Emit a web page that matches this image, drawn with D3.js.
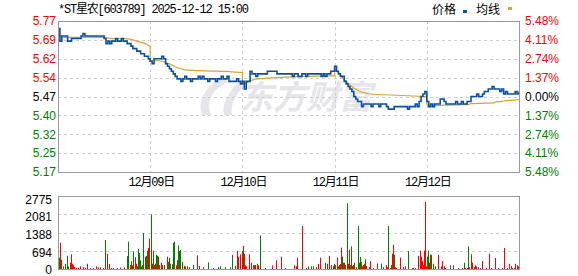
<!DOCTYPE html>
<html><head><meta charset="utf-8">
<script src="https://cdn.jsdelivr.net/npm/d3@7"></script>
<style>body{margin:0;background:#fff}svg{display:block}</style>
</head><body>
<svg id="c" width="578" height="276"></svg>
<script>
// ---------- data ----------
const title = "*ST星农[603789] 2025-12-12 15:00";
const legendLabels = ["价格", "均线"];
const dayLabels = ["12月08日", "12月09日", "12月10日", "12月11日", "12月12日"];
const minutesPerDay = 240;
const prevClose = 5.47;
const pctRange = 5.48;
const priceTickLabels = ["5.77","5.69","5.62","5.54","5.47","5.40","5.32","5.25","5.17"];
const pctTickLabels = ["5.48%","4.11%","2.74%","1.37%","0.00%","1.37%","2.74%","4.11%","5.48%"];
const volTickLabels = ["2775","2081","1388","694","0"];
const volMax = 2775;

// price samples every 5 minutes, per day (49 points each)
const day1Price = [5.74,5.69,5.71,5.71,5.71,5.69,5.69,5.70,5.70,5.70,5.70,5.70,5.71,5.72,5.71,5.71,5.71,5.71,5.71,5.71,5.71,5.71,5.71,5.71,5.70,5.68,5.69,5.68,5.69,5.69,5.70,5.69,5.69,5.70,5.69,5.69,5.68,5.68,5.67,5.66,5.66,5.65,5.65,5.64,5.64,5.63,5.63,5.62,5.61];
const day2Price = [5.61,5.60,5.62,5.62,5.62,5.62,5.63,5.62,5.60,5.59,5.58,5.57,5.56,5.55,5.54,5.54,5.53,5.54,5.55,5.54,5.54,5.53,5.54,5.54,5.54,5.55,5.54,5.55,5.54,5.54,5.53,5.54,5.54,5.54,5.53,5.54,5.54,5.55,5.54,5.54,5.55,5.53,5.53,5.53,5.53,5.54,5.53,5.52,5.52];
const day3Price = [5.53,5.50,5.53,5.53,5.57,5.56,5.56,5.55,5.56,5.56,5.56,5.56,5.56,5.57,5.57,5.57,5.57,5.57,5.56,5.56,5.56,5.56,5.56,5.56,5.56,5.56,5.55,5.56,5.56,5.55,5.55,5.56,5.56,5.55,5.56,5.56,5.56,5.56,5.56,5.56,5.56,5.55,5.56,5.55,5.56,5.56,5.57,5.57,5.58];
const day4Price = [5.59,5.57,5.56,5.55,5.55,5.53,5.52,5.51,5.50,5.49,5.47,5.46,5.45,5.45,5.43,5.44,5.44,5.44,5.44,5.43,5.44,5.44,5.44,5.43,5.44,5.44,5.44,5.43,5.42,5.42,5.42,5.43,5.43,5.43,5.43,5.43,5.43,5.43,5.42,5.43,5.43,5.43,5.44,5.43,5.45,5.47,5.48,5.49,5.46];
const day5Price = [5.45,5.43,5.44,5.43,5.44,5.44,5.44,5.46,5.46,5.45,5.44,5.44,5.44,5.44,5.44,5.45,5.44,5.44,5.45,5.44,5.44,5.45,5.45,5.47,5.47,5.47,5.48,5.47,5.47,5.48,5.49,5.49,5.50,5.50,5.51,5.50,5.50,5.50,5.49,5.50,5.48,5.49,5.48,5.48,5.48,5.48,5.49,5.48,5.49];

// average-price line samples every 5 minutes, per day
const day1Avg = [5.72,5.71,5.71,5.705,5.705,5.705,5.705,5.705,5.705,5.705,5.705,5.705,5.705,5.705,5.705,5.705,5.705,5.705,5.705,5.705,5.705,5.705,5.705,5.705,5.705,5.703,5.702,5.701,5.700,5.700,5.700,5.700,5.700,5.700,5.700,5.700,5.699,5.698,5.697,5.695,5.692,5.690,5.688,5.686,5.684,5.681,5.678,5.673,5.667];
const day2Avg = [5.61,5.612,5.612,5.612,5.612,5.612,5.61,5.608,5.606,5.603,5.600,5.596,5.592,5.588,5.585,5.582,5.580,5.578,5.576,5.575,5.575,5.574,5.574,5.574,5.573,5.573,5.573,5.572,5.572,5.572,5.572,5.571,5.571,5.571,5.571,5.571,5.570,5.570,5.570,5.570,5.570,5.569,5.568,5.568,5.567,5.567,5.566,5.566,5.565];
const day3Avg = [5.53,5.52,5.525,5.528,5.532,5.535,5.537,5.539,5.540,5.541,5.541,5.542,5.542,5.543,5.543,5.544,5.544,5.545,5.545,5.546,5.546,5.546,5.547,5.547,5.547,5.548,5.548,5.548,5.549,5.549,5.549,5.549,5.550,5.550,5.550,5.550,5.550,5.550,5.551,5.551,5.551,5.551,5.551,5.551,5.552,5.552,5.552,5.552,5.552];
const day4Avg = [5.58,5.57,5.565,5.555,5.545,5.537,5.530,5.523,5.516,5.510,5.504,5.499,5.495,5.491,5.488,5.486,5.484,5.482,5.481,5.480,5.479,5.478,5.478,5.478,5.477,5.477,5.477,5.477,5.476,5.476,5.476,5.475,5.475,5.475,5.474,5.474,5.474,5.473,5.473,5.473,5.472,5.472,5.472,5.471,5.471,5.471,5.470,5.470,5.470];
const day5Avg = [5.44,5.43,5.43,5.432,5.433,5.434,5.435,5.435,5.435,5.436,5.436,5.436,5.436,5.436,5.437,5.437,5.437,5.437,5.438,5.438,5.438,5.438,5.439,5.442,5.442,5.442,5.443,5.443,5.443,5.443,5.444,5.444,5.444,5.444,5.445,5.445,5.449,5.450,5.450,5.451,5.452,5.454,5.454,5.455,5.455,5.456,5.456,5.457,5.457];

// volume bars: minute index over the 5 days, amount, direction (r = up, g = down)
const volMinute = [3,5,9,12,19,24,27,31,34,36,39,42,47,52,57,64,69,75,83,92,98,105,109,116,123,128,132,138,144,153,161,172,180,183,187,190,193,196,200,203,206,207,210,213,217,219,222,226,228,232,234,237,242,244,247,251,253,256,258,261,264,269,272,277,283,286,290,292,296,299,302,306,311,313,316,318,322,324,327,331,335,342,352,363,367,378,391,404,417,422,435,448,452,454,461,465,468,475,480,482,484,487,489,498,502,507,510,513,517,521,526,539,556,567,580,591,
 614,619,623,634,636,645,652,659,665,672,678,683,695,701,706,710,715,718,722,725,729,732,735,737,740,743,745,748,751,753,756,758,761,763,766,769,771,776,782,784,787,789,791,794,796,800,802,810,813,821,831,841,847,853,857,860,864,868,870,873,875,878,881,891,897,904,912,921,923,929,938,943,946,948,951,953,956,958,961,964,966,969,972,977,982,990,996,1000,1005,1007,1021,1029,1042,1051,1057,1060,1064,1068,1070,1076,1078,1082,1086,1089,1094,1098,1104,1115,1122,1128,1138,1146,1156,1162,1168,1175,1178,1181,1187,1190,1195,1198];
const volAmount = [430,1000,350,100,190,500,100,240,560,200,140,80,50,50,100,70,50,200,40,40,100,60,60,40,1100,580,190,40,40,40,60,60,490,1040,150,300,140,670,450,200,100,770,610,330,100,150,1370,470,500,700,800,1160,2080,200,700,150,200,540,500,470,150,240,150,150,470,270,430,200,180,1000,1040,140,330,900,690,720,270,150,120,100,100,70,160,520,120,70,250,40,70,100,70,70,540,430,120,690,470,560,690,880,580,140,100,560,240,140,150,150,200,140,1270,40,140,330,470,40,
 140,100,430,100,1630,40,100,100,100,70,190,430,240,200,500,150,120,200,150,430,100,150,190,810,470,240,240,150,50,2500,200,730,150,860,120,150,240,70,1630,240,460,270,100,150,200,370,120,70,300,40,210,200,70,150,70,1630,40,150,580,920,540,70,40,430,70,100,680,40,50,40,500,700,470,300,150,700,2550,100,470,700,240,540,540,200,100,540,100,300,100,40,140,140,40,40,240,50,40,860,70,560,240,70,140,100,70,40,300,40,580,40,420,40,40,800,40,200,120,40,40,200,140,100];
const volDir = ("grrggggrrr"+"rrrrrrrrrr"+"rrgrgrrrrr"+"rrggrrrgrr"+"rggggrgrgg"+"rrgrgrrggr"+"rrrgrggrgg"+"grrgggrrgr"+"grgrrrgrgg"+"rgrgrrrrgr"+"rrrrrrrgrr"+"grrrrr"+
 "rrrgrrgrgr"+"rrgrrrggrr"+"rgrrggrrgg"+"rrggrrgrgg"+"grrrrgrrrr"+"rgrrrgrgrr"+"grrrrrgrgr"+"rrrrrrrrgg"+"rgrggrrrrr"+"grrrgrrgrr"+"rrrrgrrrrr"+"rrrrrrrgrr"+"rr").split("");

// ---------- drawing ----------
const RED = "#ff0000", GREEN = "#008000", BLUE = "#0c4f9e", GOLD = "#dba22a";
const GRID = "#cfcfcf", FRAME = "#9a9a9a";
const svg = d3.select("#c");
const P = {l: 58, r: 519, t: 21, b: 172};
const V = {t: 196, b: 269};
const nDays = dayLabels.length;

const x = d3.scaleLinear().domain([0, nDays * minutesPerDay]).range([P.l, P.r]);
const lo = prevClose * (1 - pctRange / 100), hi = prevClose * (1 + pctRange / 100);
const y = d3.scaleLinear().domain([lo, hi]).range([P.b, P.t]);
const yv = d3.scaleLinear().domain([0, volMax]).range([V.b, V.t]);

const nLev = priceTickLabels.length;
const levels = d3.range(nLev).map(k => hi - k * (hi - lo) / (nLev - 1));
const vLevels = d3.range(volTickLabels.length).map(k => volMax - k * volMax / (volTickLabels.length - 1));

const crisp = v => Math.round(v) + 0.5;

// watermark
const wm = svg.append("g").attr("fill", "#e5e5ea");
wm.append("path").attr("d", "M223,77 C206,85 197,100 202,115 L211,115 C206,101 212,89 228,82 Z");
wm.append("path").attr("d", "M241,80 C229,91 221,104 224,115 L232,115 C230,104 236,93 246,85 Z");
wm.append("text").attr("x", 240).attr("y", 109).attr("font-family", "Noto Sans CJK SC")
  .attr("font-weight", "bold").attr("font-style", "italic").attr("font-size", 33).text("东方财富");

// price grid
const g = svg.append("g");
g.selectAll("line.h").data(levels.slice(1, -1)).join("line")
  .attr("x1", P.l).attr("x2", P.r).attr("y1", d => crisp(y(d))).attr("y2", d => crisp(y(d)))
  .attr("stroke", GRID).attr("stroke-dasharray", "3,3");
g.selectAll("line.v").data(d3.range(1, nDays)).join("line")
  .attr("y1", P.t).attr("y2", P.b).attr("x1", d => crisp(x(d * minutesPerDay))).attr("x2", d => crisp(x(d * minutesPerDay)))
  .attr("stroke", GRID).attr("stroke-dasharray", "3,3");

// volume grid
g.selectAll("line.vh").data(vLevels.slice(1, -1)).join("line")
  .attr("x1", P.l).attr("x2", P.r).attr("y1", d => crisp(yv(d))).attr("y2", d => crisp(yv(d)))
  .attr("stroke", GRID).attr("stroke-dasharray", "3,3");

// series
function series(days) {
  const pts = [];
  days.forEach((arr, d) => {
    const step = minutesPerDay / (arr.length - 1);
    arr.forEach((p, i) => pts.push({t: d * minutesPerDay + i * step, p}));
  });
  return pts;
}
const pricePts = series([day1Price, day2Price, day3Price, day4Price, day5Price]);
const avgPts = series([day1Avg, day2Avg, day3Avg, day4Avg, day5Avg]);

svg.append("path").datum(avgPts)
  .attr("d", d3.line().x(d => x(d.t)).y(d => y(d.p)))
  .attr("fill", "none").attr("stroke", GOLD).attr("stroke-width", 1.2);
svg.append("path").datum(pricePts)
  .attr("d", d3.line().curve(d3.curveStepAfter).x(d => x(d.t)).y(d => y(d.p)))
  .attr("fill", "none").attr("stroke", BLUE).attr("stroke-width", 1.6);

// volume bars
const vols = volMinute.map((m, i) => ({m, v: volAmount[i], up: volDir[i] === "r"}));
svg.append("g").selectAll("rect").data(vols).join("rect")
  .attr("x", d => Math.round(x(d.m)))
  .attr("width", 1)
  .attr("y", d => yv(d.v))
  .attr("height", d => V.b - yv(d.v))
  .attr("fill", d => d.up ? RED : GREEN);

// frames
svg.append("rect").attr("x", P.l + 0.5).attr("y", P.t + 0.5).attr("width", P.r - P.l).attr("height", P.b - P.t)
  .attr("fill", "none").attr("stroke", FRAME);
svg.append("rect").attr("x", P.l + 0.5).attr("y", V.t + 0.5).attr("width", P.r - P.l).attr("height", V.b - V.t)
  .attr("fill", "none").attr("stroke", FRAME);

// label colours
const levColor = i => i < (nLev - 1) / 2 ? RED : (i === (nLev - 1) / 2 ? "#000" : GREEN);
const axisFont = "Liberation Sans, Arial, sans-serif";

svg.append("g").selectAll("text").data(levels).join("text")
  .attr("x", 56).attr("y", d => y(d)).attr("dy", "0.36em").attr("text-anchor", "end")
  .attr("font-family", axisFont).attr("font-size", 12)
  .attr("fill", (d, i) => levColor(i)).text((d, i) => priceTickLabels[i]);

svg.append("g").selectAll("text").data(levels).join("text")
  .attr("x", 525).attr("y", d => y(d)).attr("dy", "0.36em").attr("text-anchor", "start")
  .attr("font-family", axisFont).attr("font-size", 12)
  .attr("fill", (d, i) => levColor(i)).text((d, i) => pctTickLabels[i]);

svg.append("g").selectAll("text").data(vLevels).join("text")
  .attr("x", 52).attr("y", (d, i) => yv(d) + 3.3 - i * 0.55).attr("dy", "0.35em").attr("text-anchor", "end")
  .attr("font-family", axisFont).attr("font-size", 12)
  .attr("fill", "#000").text((d, i) => volTickLabels[i]);

// date labels
const monoFont = "Liberation Mono, Noto Sans CJK SC, monospace";
svg.append("g").selectAll("text").data(d3.range(1, nDays)).join("text")
  .attr("x", d => x(d * minutesPerDay) + 1).attr("y", 186).attr("text-anchor", "middle")
  .attr("font-family", monoFont).attr("font-size", 12).attr("letter-spacing", "-1.2px")
  .attr("fill", "#000").text(d => dayLabels[d]);

// title
svg.append("text").attr("x", 58).attr("y", 13)
  .attr("font-family", monoFont).attr("font-size", 12).attr("letter-spacing", "-1.2px")
  .attr("fill", "#000").text(title);

// legend
const lg = svg.append("g").attr("font-family", "Noto Sans CJK SC").attr("font-size", 12).attr("fill", "#000");
lg.append("text").attr("x", 432).attr("y", 13.5).text(legendLabels[0]);
lg.append("rect").attr("x", 463).attr("y", 10).attr("width", 4).attr("height", 3).attr("fill", BLUE);
lg.append("text").attr("x", 476).attr("y", 13.5).text(legendLabels[1]);
lg.append("rect").attr("x", 508).attr("y", 7).attr("width", 4).attr("height", 3).attr("fill", GOLD);
</script>
</body></html>
